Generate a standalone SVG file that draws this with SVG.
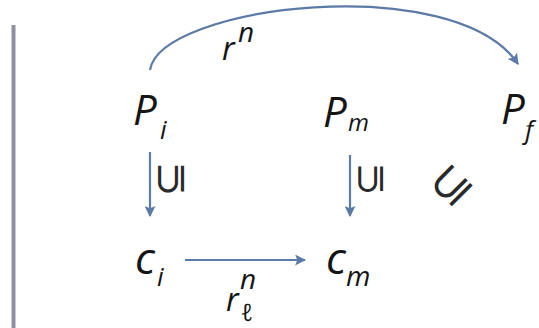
<svg xmlns="http://www.w3.org/2000/svg" width="539" height="328" viewBox="0 0 539 328">
<defs>
<style>
.t{font-family:"Open Sans","Liberation Sans",sans-serif;font-style:italic;fill:#151515}
.s{font-family:"DejaVu Sans","Liberation Sans",sans-serif;fill:#2a2a2a}
.c{fill:none;stroke:#5b7aa6;stroke-width:2.2}
</style>
<marker id="ah" viewBox="0 0 10 10" refX="9" refY="5" markerWidth="5" markerHeight="5" orient="auto" markerUnits="strokeWidth">
<path d="M0,0 L10,5 L0,10 L2,5 z" fill="#5b7aa6"/>
</marker>
</defs>
<rect width="539" height="328" fill="#ffffff"/>
<line x1="13.5" y1="25" x2="13.5" y2="328" stroke="#8c90a0" stroke-width="4"/>
<g id="connectors">
<path class="c" d="M150,70 C160,5 455,-30 518,64" stroke="#6d7b92" marker-end="url(#ah)"/>
<line class="c" x1="150" y1="152" x2="150" y2="216" marker-end="url(#ah)"/>
<line class="c" x1="350" y1="155" x2="350" y2="216" marker-end="url(#ah)"/>
<line class="c" x1="185" y1="260" x2="305" y2="260" marker-end="url(#ah)"/>
</g>
<g id="label-rn"><text class="t" x="222" y="60" font-size="32">r</text><text class="t" x="238" y="42" font-size="28">n</text></g>
<g id="node-Pi"><text class="t" x="133" y="125" font-size="42">P</text><text class="t" x="160" y="139" font-size="26">i</text></g>
<g id="node-Pm"><text class="t" x="323" y="127" font-size="42">P</text><text class="t" x="348" y="131" font-size="24">m</text></g>
<g id="node-Pf"><text class="t" x="501" y="124" font-size="42">P</text><text class="t" x="525" y="139" font-size="26">f</text></g>
<g id="node-ci"><text class="t" x="135" y="274" font-size="44">c</text><text class="t" x="157" y="286" font-size="26">i</text></g>
<g id="node-cm"><text class="t" x="326" y="274" font-size="44">c</text><text class="t" x="346" y="286" font-size="28">m</text></g>
<g id="label-rl"><text class="t" x="226" y="311" font-size="32">r</text><text class="t" x="240" y="289" font-size="28">n</text><text class="t" x="241" y="321" font-size="24" font-family="DejaVu Sans,sans-serif">ℓ</text></g>
<g id="sub-labels">
<text class="s" font-size="42" text-anchor="middle" transform="translate(169,179) rotate(-90)" dominant-baseline="central">⊆</text>
<text class="s" font-size="40" text-anchor="middle" transform="translate(369,179) rotate(-90)" dominant-baseline="central">⊆</text>
<text class="s" font-size="48" text-anchor="middle" transform="translate(450,184) rotate(-45)" dominant-baseline="central">⊆</text>
</g>
</svg>
